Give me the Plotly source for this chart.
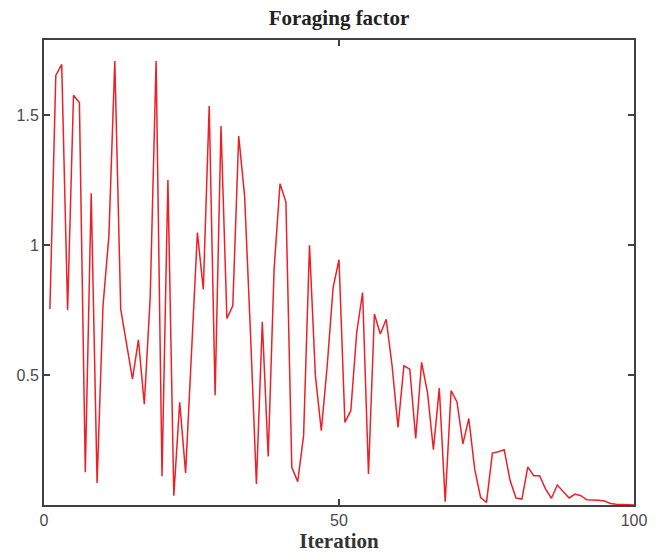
import plotly.graph_objects as go

iterations = list(range(1, 101))
foraging = [
    0.754, 1.654, 1.696, 0.751, 1.577, 1.549, 0.126, 1.200, 0.085, 0.767,
    1.036, 1.709, 0.754, 0.613, 0.485, 0.636, 0.388, 0.800, 1.709, 0.111,
    1.251, 0.036, 0.395, 0.123, 0.590, 1.049, 0.830, 1.536, 0.423, 1.459,
    0.718, 0.767, 1.420, 1.190, 0.660, 0.081, 0.705, 0.187, 0.908, 1.237,
    1.167, 0.145, 0.090, 0.267, 1.000, 0.497, 0.286, 0.536, 0.837, 0.944,
    0.318, 0.363, 0.664, 0.818, 0.119, 0.735, 0.658, 0.715, 0.536, 0.299,
    0.536, 0.523, 0.256, 0.549, 0.433, 0.213, 0.450, 0.013, 0.440, 0.397,
    0.235, 0.333, 0.138, 0.029, 0.010, 0.200, 0.205, 0.213, 0.094, 0.027,
    0.023, 0.147, 0.113, 0.113, 0.062, 0.026, 0.077, 0.051, 0.027, 0.042,
    0.036, 0.020, 0.020, 0.018, 0.015, 0.006, 0.003, 0.002, 0.001, 0.000,
]
x_ticks = [0, 50, 100]
y_ticks = [0.5, 1, 1.5]
y_tick_labels = ["0.5", "1", "1.5"]

fig = go.Figure()
fig.add_trace(go.Scatter(x=iterations, y=foraging, mode="lines",
                         line=dict(color="#ee2027", width=1.5),
                         showlegend=False))

axis_common = dict(showline=True, linecolor="#404040", linewidth=2,
                   mirror="ticks", ticks="inside", ticklen=6, tickwidth=1.5,
                   tickcolor="#404040", showgrid=False, zeroline=False,
                   tickfont=dict(family="Liberation Sans, Arial", size=16, color="#4a4a4a"))

fig.update_layout(
    width=661, height=559,
    margin=dict(l=44, r=27, t=40, b=54),
    paper_bgcolor="white", plot_bgcolor="white",
    title=dict(text="<b>Foraging factor</b>", x=0.5, xref="paper", xanchor="center",
               y=1 - 18 / 559, yanchor="middle",
               font=dict(family="Liberation Serif, Times New Roman", size=21, color="#222222")),
    xaxis=dict(range=[0, 100], tickvals=x_ticks,
               title=dict(text="<b>Iteration</b>", standoff=4,
                          font=dict(family="Liberation Serif, Times New Roman", size=21, color="#333333")),
               **axis_common),
    yaxis=dict(range=[0, 1.79], tickvals=y_ticks, ticktext=y_tick_labels, **axis_common),
)

fig.write_html("out.html")
